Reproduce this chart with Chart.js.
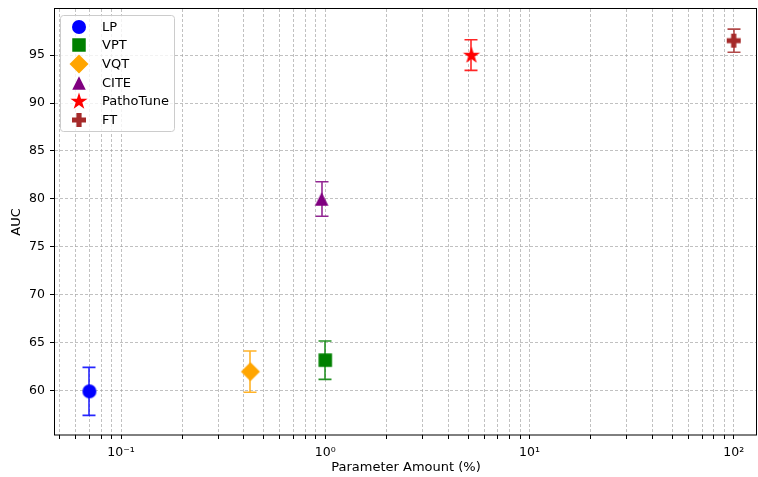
<!DOCTYPE html>
<html><head><meta charset="utf-8">
<script src="https://cdn.jsdelivr.net/npm/chart.js@4/dist/chart.umd.min.js"></script>
<style>html,body{margin:0;padding:0;background:#fff}canvas{display:block}</style>
</head><body>
<canvas id="c" width="758" height="477"></canvas>
<script>
const methods = ['LP', 'VPT', 'VQT', 'CITE', 'PathoTune', 'FT'];
const paramAmount = [0.07, 1.0, 0.43, 0.96, 5.2, 100];
const aucMean = [59.95, 63.2, 62.0, 80.0, 95.0, 96.5];
const aucErr = [2.5, 2.0, 2.15, 1.8, 1.6, 1.2];
const colors = ['#0000ff', '#008000', '#ffa500', '#800080', '#ff0000', '#a52a2a'];
const markers = ['circle', 'square', 'diamond', 'triangle', 'star', 'plus'];
const yTickValues = [60, 65, 70, 75, 80, 85, 90, 95];
const xMajorTicks = [0.1, 1, 10, 100];
const xTickLabels = ['10\u207B\u00B9', '10\u2070', '10\u00B9', '10\u00B2'];

function makeMarker(kind, color) {
  const s = 24, m = s / 2;
  const c = document.createElement('canvas');
  c.width = s; c.height = s;
  const g = c.getContext('2d');
  g.fillStyle = color;
  g.beginPath();
  if (kind === 'circle') {
    g.arc(m, m, 7, 0, Math.PI * 2);
  } else if (kind === 'square') {
    g.rect(m - 6.75, m - 6.75, 13.5, 13.5);
  } else if (kind === 'diamond') {
    const r = 9.5;
    g.moveTo(m, m - r); g.lineTo(m + r, m); g.lineTo(m, m + r); g.lineTo(m - r, m); g.closePath();
  } else if (kind === 'triangle') {
    const r = 6.75;
    g.moveTo(m, m - r); g.lineTo(m + r, m + r); g.lineTo(m - r, m + r); g.closePath();
  } else if (kind === 'star') {
    const ro = 9, ri = 9 * 0.382;
    for (let i = 0; i < 10; i++) {
      const r = i % 2 === 0 ? ro : ri;
      const a = -Math.PI / 2 + i * Math.PI / 5;
      const px = m + r * Math.cos(a), py = m + 0.5 + r * Math.sin(a);
      if (i === 0) g.moveTo(px, py); else g.lineTo(px, py);
    }
    g.closePath();
  } else if (kind === 'plus') {
    const R = 7, w = 2.6;
    g.moveTo(m - w, m - R); g.lineTo(m + w, m - R); g.lineTo(m + w, m - w); g.lineTo(m + R, m - w);
    g.lineTo(m + R, m + w); g.lineTo(m + w, m + w); g.lineTo(m + w, m + R); g.lineTo(m - w, m + R);
    g.lineTo(m - w, m + w); g.lineTo(m - R, m + w); g.lineTo(m - R, m - w); g.lineTo(m - w, m - w);
    g.closePath();
  }
  g.fill();
  return c;
}
const markerImgs = methods.map((_, i) => makeMarker(markers[i], colors[i]));

Chart.defaults.font.family = "'DejaVu Sans', sans-serif";
Chart.defaults.font.size = 12.5;
Chart.defaults.color = '#000';

const errorBars = {
  id: 'errorBars',
  beforeDatasetsDraw(chart) {
    const { ctx, scales: { x, y } } = chart;
    ctx.save();
    methods.forEach((_, i) => {
      const px = Math.round(x.getPixelForValue(paramAmount[i]));
      const top = y.getPixelForValue(aucMean[i] + aucErr[i]);
      const bot = y.getPixelForValue(aucMean[i] - aucErr[i]);
      ctx.strokeStyle = colors[i];
      ctx.globalAlpha = 0.85;
      ctx.lineWidth = 1.6;
      ctx.beginPath();
      ctx.moveTo(px, top); ctx.lineTo(px, bot);
      ctx.moveTo(px - 6.5, top); ctx.lineTo(px + 6.5, top);
      ctx.moveTo(px - 6.5, bot); ctx.lineTo(px + 6.5, bot);
      ctx.stroke();
    });
    ctx.restore();
  }
};

const frameAndLegend = {
  id: 'frameAndLegend',
  afterDraw(chart) {
    const { ctx, chartArea: ca } = chart;
    ctx.save();
    ctx.strokeStyle = '#000';
    ctx.lineWidth = 1;
    const L = Math.round(ca.left), T = Math.round(ca.top), R = Math.round(ca.right), B = Math.round(ca.bottom);
    ctx.strokeRect(L - 0.5, T - 0.5, R - L, B - T + 0.5);
    // legend
    const bx = 60.5, by = 15.5, bw = 114, bh = 116, r = 3;
    ctx.beginPath();
    ctx.moveTo(bx + r, by); ctx.lineTo(bx + bw - r, by); ctx.arcTo(bx + bw, by, bx + bw, by + r, r);
    ctx.lineTo(bx + bw, by + bh - r); ctx.arcTo(bx + bw, by + bh, bx + bw - r, by + bh, r);
    ctx.lineTo(bx + r, by + bh); ctx.arcTo(bx, by + bh, bx, by + bh - r, r);
    ctx.lineTo(bx, by + r); ctx.arcTo(bx, by, bx + r, by, r);
    ctx.closePath();
    ctx.fillStyle = 'rgba(255,255,255,0.8)';
    ctx.fill();
    ctx.strokeStyle = '#cccccc';
    ctx.stroke();
    ctx.fillStyle = '#000';
    ctx.font = "13px 'DejaVu Sans', sans-serif";
    ctx.textBaseline = 'middle';
    methods.forEach((name, i) => {
      const yy = 26.7 + i * 18.65;
      const img = markerImgs[i];
      ctx.drawImage(img, 79 - img.width / 2, Math.round(yy) - img.height / 2);
      ctx.fillText(name, 102, yy + 0.5);
    });
    ctx.restore();
  }
};

new Chart(document.getElementById('c'), {
  type: 'scatter',
  data: {
    datasets: methods.map((name, i) => ({
      label: name,
      data: [{ x: paramAmount[i], y: aucMean[i] }],
      pointStyle: markerImgs[i],
      backgroundColor: colors[i],
      borderColor: colors[i]
    }))
  },
  options: {
    responsive: false,
    animation: false,
    devicePixelRatio: 1,
    layout: { autoPadding: false, padding: { top: 9, right: 1, left: 0, bottom: 0 } },
    plugins: { legend: { display: false }, tooltip: { enabled: false } },
    scales: {
      x: {
        type: 'logarithmic',
        min: 0.0475,
        max: 130,
        afterBuildTicks(scale) {
          const t = [];
          for (let e = -2; e <= 2; e++) {
            for (let k = 1; k <= 9; k++) {
              const v = k * Math.pow(10, e);
              if (v >= scale.min && v <= scale.max) t.push({ value: v });
            }
          }
          scale.ticks = t;
        },
        afterFit(scale) { scale.height = 42; scale.paddingLeft = 0; scale.paddingRight = 0; },
        ticks: {
          autoSkip: false,
          maxRotation: 0,
          padding: 6.5,
          color: '#000',
          font: { size: 12.5 },
          callback(v) {
            const i = xMajorTicks.findIndex(m => Math.abs(m - v) / m < 1e-6);
            return i >= 0 ? xTickLabels[i] : '';
          }
        },
        grid: { color: '#a6a6a6', lineWidth: 0.7, tickLength: 4, tickColor: '#000', tickWidth: 1, tickBorderDash: [], borderDash: [3, 2] },
        border: { display: false, dash: [3, 2] },
        title: { display: true, text: 'Parameter Amount (%)', color: '#000', font: { size: 13 }, padding: { top: 0, bottom: 1.4 } }
      },
      y: {
        min: 55.4,
        max: 99.8,
        afterBuildTicks(scale) { scale.ticks = yTickValues.map(v => ({ value: v })); },
        afterFit(scale) { scale.width = 55; scale.paddingTop = 0; scale.paddingBottom = 0; },
        ticks: { padding: 5, color: '#000', font: { size: 12.5 }, includeBounds: false },
        grid: { color: '#a6a6a6', lineWidth: 0.7, tickLength: 5, tickColor: '#000', tickWidth: 1, tickBorderDash: [], borderDash: [3, 2] },
        border: { display: false, dash: [3, 2] },
        title: { display: true, text: 'AUC', color: '#000', font: { size: 13 }, padding: { top: 9.2, bottom: 0 } }
      }
    }
  },
  plugins: [errorBars, frameAndLegend]
});
</script>
</body></html>
